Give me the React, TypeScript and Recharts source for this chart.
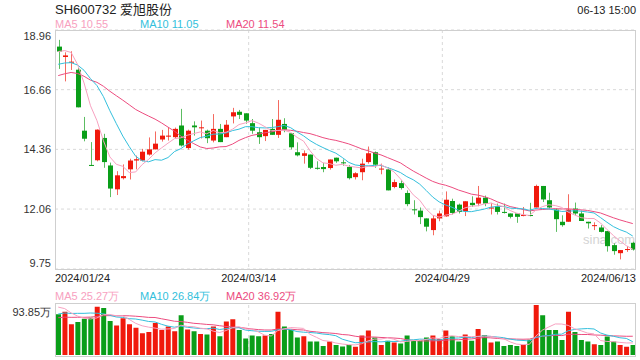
import React from 'react';
import { ComposedChart, Bar, Line, XAxis, YAxis, CartesianGrid, Cell } from 'recharts';

const dates = [
  '2024/01/24', '2024/01/25', '2024/01/26', '2024/01/29', '2024/01/30', '2024/01/31',
  '2024/02/01', '2024/02/02', '2024/02/05', '2024/02/06', '2024/02/07', '2024/02/08',
  '2024/02/19', '2024/02/20', '2024/02/21', '2024/02/22', '2024/02/23', '2024/02/26',
  '2024/02/27', '2024/02/28', '2024/02/29', '2024/03/01', '2024/03/04', '2024/03/05',
  '2024/03/06', '2024/03/07', '2024/03/08', '2024/03/11', '2024/03/12', '2024/03/13',
  '2024/03/14', '2024/03/15', '2024/03/18', '2024/03/19', '2024/03/20', '2024/03/21',
  '2024/03/22', '2024/03/25', '2024/03/26', '2024/03/27', '2024/03/28', '2024/03/29',
  '2024/04/01', '2024/04/02', '2024/04/03', '2024/04/08', '2024/04/09', '2024/04/10',
  '2024/04/11', '2024/04/12', '2024/04/15', '2024/04/16', '2024/04/17', '2024/04/18',
  '2024/04/19', '2024/04/22', '2024/04/23', '2024/04/24', '2024/04/25', '2024/04/26',
  '2024/04/29', '2024/04/30', '2024/05/06', '2024/05/07', '2024/05/08', '2024/05/09',
  '2024/05/10', '2024/05/13', '2024/05/14', '2024/05/15', '2024/05/16', '2024/05/17',
  '2024/05/20', '2024/05/21', '2024/05/22', '2024/05/23', '2024/05/24', '2024/05/27',
  '2024/05/28', '2024/05/29', '2024/05/30', '2024/05/31', '2024/06/03', '2024/06/04',
  '2024/06/05', '2024/06/06', '2024/06/07', '2024/06/11', '2024/06/12', '2024/06/13',
];

const opens = [
  18.32, 17.92, 17.70, 17.43, 15.08, 13.76, 13.94, 14.80, 13.74, 12.82,
  13.25, 13.59, 13.93, 13.93, 14.16, 14.36, 14.74, 14.85, 14.83, 15.28,
  14.41, 15.28, 15.18, 15.08, 14.70, 15.15, 14.83, 15.63, 15.81, 15.75,
  15.37, 15.02, 14.87, 15.15, 14.92, 15.34, 14.98, 14.25, 14.11, 14.16,
  13.65, 13.68, 13.64, 14.04, 13.86, 13.68, 13.29, 13.48, 13.87, 14.25,
  13.60, 13.59, 12.91, 13.06, 12.68, 12.05, 12.00, 11.70, 11.25, 11.70,
  11.78, 12.37, 12.23, 11.98, 12.30, 12.27, 12.50, 12.08, 12.17, 11.95,
  11.89, 11.89, 11.80, 11.83, 12.12, 12.95, 12.40, 12.04, 11.57, 11.57,
  12.08, 11.89, 11.57, 11.42, 11.35, 11.21, 10.67, 10.36, 10.50, 10.76,
];
const highs = [
  18.58, 18.10, 18.14, 17.50, 15.61, 14.64, 15.13, 14.96, 13.85, 13.52,
  13.78, 14.00, 14.12, 14.38, 14.82, 15.05, 15.11, 15.21, 15.20, 15.92,
  15.12, 15.44, 15.47, 15.12, 15.72, 15.34, 15.49, 15.96, 15.88, 15.75,
  15.53, 15.19, 15.11, 15.53, 16.26, 15.56, 14.98, 14.63, 14.32, 14.16,
  13.90, 13.83, 13.97, 14.04, 13.97, 13.75, 13.48, 14.00, 14.47, 14.28,
  13.81, 13.66, 13.20, 13.17, 12.78, 12.40, 12.12, 11.70, 11.82, 12.00,
  12.74, 12.46, 12.27, 12.36, 12.55, 12.95, 12.58, 12.30, 12.27, 12.27,
  11.89, 11.89, 12.14, 12.30, 13.00, 12.95, 12.69, 12.08, 11.82, 12.63,
  12.31, 12.00, 11.57, 11.55, 11.44, 11.21, 10.74, 10.48, 10.63, 10.80,
];
const lows = [
  17.46, 16.98, 17.42, 15.98, 14.67, 13.72, 13.90, 13.65, 12.52, 12.60,
  13.20, 13.20, 13.59, 13.90, 14.12, 14.36, 14.66, 14.70, 14.78, 14.47,
  14.35, 14.89, 14.78, 14.60, 14.63, 14.64, 14.83, 15.36, 15.53, 15.35,
  14.96, 14.57, 14.68, 14.92, 14.80, 15.02, 14.36, 14.09, 13.81, 13.60,
  13.58, 13.48, 13.58, 13.84, 13.73, 13.20, 13.20, 13.17, 13.81, 13.65,
  13.40, 12.78, 12.86, 12.81, 12.17, 11.85, 11.48, 11.20, 11.05, 11.59,
  11.76, 11.85, 11.89, 11.79, 12.14, 12.17, 12.17, 11.85, 11.85, 11.89,
  11.70, 11.53, 11.78, 11.78, 12.12, 12.33, 12.08, 11.18, 11.38, 11.57,
  11.82, 11.60, 11.31, 11.25, 11.16, 10.42, 10.30, 10.12, 10.41, 10.46,
];
const closes = [
  18.13, 17.98, 17.74, 15.98, 14.77, 13.73, 15.12, 13.87, 12.85, 13.36,
  13.33, 13.93, 13.98, 14.27, 14.36, 14.58, 14.89, 14.89, 15.15, 14.51,
  15.08, 15.21, 15.21, 14.79, 15.15, 14.64, 15.31, 15.79, 15.69, 15.47,
  15.08, 14.83, 15.11, 14.92, 15.50, 15.12, 14.44, 14.13, 14.21, 13.65,
  13.62, 13.60, 13.97, 13.90, 13.83, 13.25, 13.44, 13.81, 14.21, 13.77,
  13.62, 12.78, 13.10, 12.87, 12.25, 12.03, 11.75, 11.38, 11.70, 11.89,
  12.42, 11.91, 11.95, 12.36, 12.21, 12.50, 12.27, 12.12, 11.95, 11.92,
  11.76, 11.76, 11.83, 11.80, 12.95, 12.43, 12.12, 11.67, 11.44, 12.04,
  11.89, 11.60, 11.51, 11.44, 11.18, 10.63, 10.44, 10.48, 10.52, 10.50,
];
// volume in 万手
const volumes = [
  76.6, 81.0, 57.5, 62.0, 68.0, 70.0, 90.6, 88.0, 64.0, 55.5,
  69.0, 57.5, 51.0, 41.0, 43.0, 60.0, 47.0, 53.6, 44.7, 74.7,
  48.0, 44.7, 39.6, 38.3, 53.6, 35.0, 63.0, 67.0, 47.0, 31.0,
  36.4, 35.0, 36.4, 39.6, 81.0, 53.6, 47.0, 33.0, 35.0, 25.5,
  25.5, 17.0, 25.5, 19.0, 16.0, 19.0, 15.3, 36.4, 46.0, 33.0,
  19.0, 26.8, 23.6, 21.7, 36.4, 26.8, 28.0, 33.0, 36.4, 30.0,
  46.0, 35.0, 25.5, 38.3, 26.8, 49.0, 37.7, 23.6, 25.5, 17.0,
  19.0, 17.0, 19.0, 28.7, 93.85, 74.7, 47.0, 47.0, 28.0, 81.0,
  43.0, 28.0, 25.5, 20.4, 19.0, 34.5, 25.5, 19.0, 15.3, 19.0,
];
// sessions before the window, only used to warm up the moving averages
const priorCloses = [
  16.6, 16.72, 16.8, 16.9, 16.7, 16.8, 16.9, 16.7, 16.8, 16.75,
  17.5, 17.6, 16.9, 16.8, 16.95, 17.8, 18.1, 18.3, 18.32,
];
const priorVolumes = [
  60, 65, 58, 70, 62, 66, 59, 64, 61, 65,
  62, 66, 60, 68, 64, 95, 98, 92, 88,
];

const priceTicks = [9.75, 12.06, 14.36, 16.66, 18.96];
const volumeTicks = [0, 93.85];
const dateTicks = ['2024/01/24', '2024/03/14', '2024/04/29', '2024/06/13'];
const gridDates = ['2024/03/14', '2024/04/29'];
const priceLegend = [
  { label: 'MA5 10.55', color: '#f7a1c0', x: 55 },
  { label: 'MA10 11.05', color: '#33bfdc', x: 140 },
  { label: 'MA20 11.54', color: '#ec4c7f', x: 226 },
];
const volumeLegend = [
  { label: 'MA5 25.27万', color: '#f7a1c0', x: 55 },
  { label: 'MA10 26.84万', color: '#33bfdc', x: 140 },
  { label: 'MA20 36.92万', color: '#ec4c7f', x: 226 },
];

const UP = '#f0190c';
const DOWN = '#0a9e19';
const UP_WICK = '#f56a60';
const DOWN_WICK = '#5cbd62';
const MA5 = '#f7a1c0';
const MA10 = '#33bfdc';
const MA20 = '#ec4c7f';
const GRID = '#d9d9d9';
const FRAME = '#cfcfcf';
const FONT = '"Liberation Sans", Arial, sans-serif';

const W = 640;
const AXIS_W = 55;
const RIGHT = 4;
const PLOT_W = W - AXIS_W - RIGHT;
const PRICE_TOP = 30;
const PRICE_BOTTOM = 269;
const VOL_TOP = 305;
const VOL_BOTTOM = 355;

const movingAvg = (prior: number[], vals: number[], n: number) => {
  const all = prior.concat(vals);
  return vals.map((_, i) => {
    const end = prior.length + i + 1;
    const win = all.slice(Math.max(0, end - n), end);
    return win.reduce((a, b) => a + b, 0) / win.length;
  });
};

const ma5 = movingAvg(priorCloses, closes, 5);
const ma10 = movingAvg(priorCloses, closes, 10);
const ma20 = movingAvg(priorCloses, closes, 20);
const vma5 = movingAvg(priorVolumes, volumes, 5);
const vma10 = movingAvg(priorVolumes, volumes, 10);
const vma20 = movingAvg(priorVolumes, volumes, 20);

const data = dates.map((date, i) => ({
  date,
  open: opens[i],
  high: highs[i],
  low: lows[i],
  close: closes[i],
  range: [lows[i], highs[i]],
  volume: volumes[i],
  ma5: ma5[i],
  ma10: ma10[i],
  ma20: ma20[i],
  vma5: vma5[i],
  vma10: vma10[i],
  vma20: vma20[i],
}));

// band edge of a date, used for the dashed vertical grid lines
const bandEdges = gridDates.map(d => AXIS_W + (PLOT_W * dates.indexOf(d)) / dates.length);

const Candle = (props: any) => {
  const { x, y, width, height, payload } = props;
  const { open, close, high, low } = payload;
  const up = close >= open;
  const top = Math.min(y, y + height);
  const h = Math.abs(height);
  const ppu = high > low ? h / (high - low) : 0;
  const bodyTop = top + (high - Math.max(open, close)) * ppu;
  const bodyH = Math.max(1, Math.abs(open - close) * ppu);
  const left = Math.round(x + width / 2) - 2;
  return (
    <g>
      <line x1={left + 2.5} x2={left + 2.5} y1={top} y2={top + h} stroke={up ? UP_WICK : DOWN_WICK} strokeWidth={1} />
      <rect x={left} y={bodyTop} width={5} height={bodyH} fill={up ? UP : DOWN} />
    </g>
  );
};

const PriceTick = ({ y, payload }: any) => {
  const v = payload.value;
  const dy = v === priceTicks[priceTicks.length - 1] ? 6 : v === priceTicks[0] ? -6 : 0;
  return (
    <text x={51} y={y + dy} textAnchor="end" dominantBaseline="central" fontSize={11} fill="#333" fontFamily={FONT}>
      {v.toFixed(2)}
    </text>
  );
};

const VolumeTick = ({ y, payload }: any) => {
  const v = payload.value;
  const dy = v === 0 ? -7 : 7;
  return (
    <text x={51} y={y + dy} textAnchor="end" dominantBaseline="central" fontSize={11} fill="#333" fontFamily={FONT}>
      {v === 0 ? '0' : `${v}万`}
    </text>
  );
};

const DateTick = ({ x, y, payload, index }: any) => {
  const bw = PLOT_W / dates.length;
  let anchor: 'start' | 'middle' | 'end' = 'middle';
  let tx = x - bw / 2;
  if (index === 0) {
    anchor = 'start';
  } else if (index === dateTicks.length - 1) {
    anchor = 'end';
    tx = x + bw / 2;
  }
  return (
    <text x={tx} y={y} dy={1} textAnchor={anchor} dominantBaseline="central" fontSize={11} fill="#222" fontFamily={FONT}>
      {payload.value}
    </text>
  );
};

const Legend = ({ items, top }: { items: typeof priceLegend; top: number }) => (
  <>
    {items.map(it => (
      <span key={it.label} style={{ position: 'absolute', left: it.x, top, fontSize: 11, color: it.color, lineHeight: '14px', whiteSpace: 'nowrap' }}>
        {it.label}
      </span>
    ))}
  </>
);

const Frame = ({ top, bottom }: { top: number; bottom: number }) => (
  <div
    style={{
      position: 'absolute',
      left: AXIS_W,
      top,
      width: PLOT_W,
      height: bottom - top,
      border: `1px solid ${FRAME}`,
      boxSizing: 'border-box',
      pointerEvents: 'none',
    }}
  />
);

export default function App() {
  return (
    <div style={{ position: 'absolute', left: 0, top: 0, width: W, height: 360, background: '#fff', fontFamily: FONT, overflow: 'hidden' }}>
      <div style={{ position: 'absolute', left: 55, top: 2, fontSize: 13, color: '#222', lineHeight: '16px', fontFamily: `${FONT}, "Noto Sans CJK SC"` }}>
        SH600732 爱旭股份
      </div>
      <div style={{ position: 'absolute', right: 4, top: 3, fontSize: 11, color: '#222', lineHeight: '14px' }}>06-13 15:00</div>
      <Legend items={priceLegend} top={17} />

      <div style={{ position: 'absolute', left: 583, top: 232, fontSize: 13, color: '#d4d4d4', fontFamily: FONT, whiteSpace: 'nowrap', lineHeight: '16px' }}>sina.com</div>
      <div style={{ position: 'absolute', left: 0, top: 0 }}>
        <ComposedChart width={W} height={300} data={data} margin={{ top: PRICE_TOP, right: RIGHT, bottom: 0, left: 0 }}>
          <CartesianGrid stroke={GRID} strokeDasharray="3 3" verticalPoints={bandEdges} />
          <XAxis dataKey="date" ticks={dateTicks} interval={0} height={300 - PRICE_BOTTOM} axisLine={false} tickLine={false} tick={<DateTick />} />
          <YAxis width={AXIS_W} domain={[priceTicks[0], priceTicks[priceTicks.length - 1]]} ticks={priceTicks} axisLine={false} tickLine={false} tick={<PriceTick />} allowDataOverflow />
          <Bar dataKey="range" barSize={5} shape={<Candle />} isAnimationActive={false} />
          <Line dataKey="ma20" stroke={MA20} strokeWidth={1} dot={false} isAnimationActive={false} />
          <Line dataKey="ma10" stroke={MA10} strokeWidth={1} dot={false} isAnimationActive={false} />
          <Line dataKey="ma5" stroke={MA5} strokeWidth={1} dot={false} isAnimationActive={false} />
        </ComposedChart>
      </div>
      <Frame top={PRICE_TOP} bottom={PRICE_BOTTOM + 1} />

      <Legend items={volumeLegend} top={289} />
      <div style={{ position: 'absolute', left: 0, top: 290 }}>
        <ComposedChart width={W} height={70} data={data} margin={{ top: VOL_TOP - 290, right: RIGHT, bottom: 360 - VOL_BOTTOM, left: 0 }}>
          <CartesianGrid stroke={GRID} strokeDasharray="3 3" horizontal={false} verticalPoints={bandEdges} />
          <XAxis dataKey="date" hide />
          <YAxis width={AXIS_W} domain={[0, volumeTicks[1]]} ticks={volumeTicks} axisLine={false} tickLine={false} tick={<VolumeTick />} allowDataOverflow />
          <Bar dataKey="volume" barSize={5} isAnimationActive={false}>
            {data.map(d => (
              <Cell key={d.date} fill={d.close >= d.open ? UP : DOWN} />
            ))}
          </Bar>
          <Line dataKey="vma20" stroke={MA20} strokeWidth={1} dot={false} isAnimationActive={false} />
          <Line dataKey="vma10" stroke={MA10} strokeWidth={1} dot={false} isAnimationActive={false} />
          <Line dataKey="vma5" stroke={MA5} strokeWidth={1} dot={false} isAnimationActive={false} />
        </ComposedChart>
      </div>
      <Frame top={VOL_TOP - 2} bottom={VOL_BOTTOM + 2} />
    </div>
  );
}
